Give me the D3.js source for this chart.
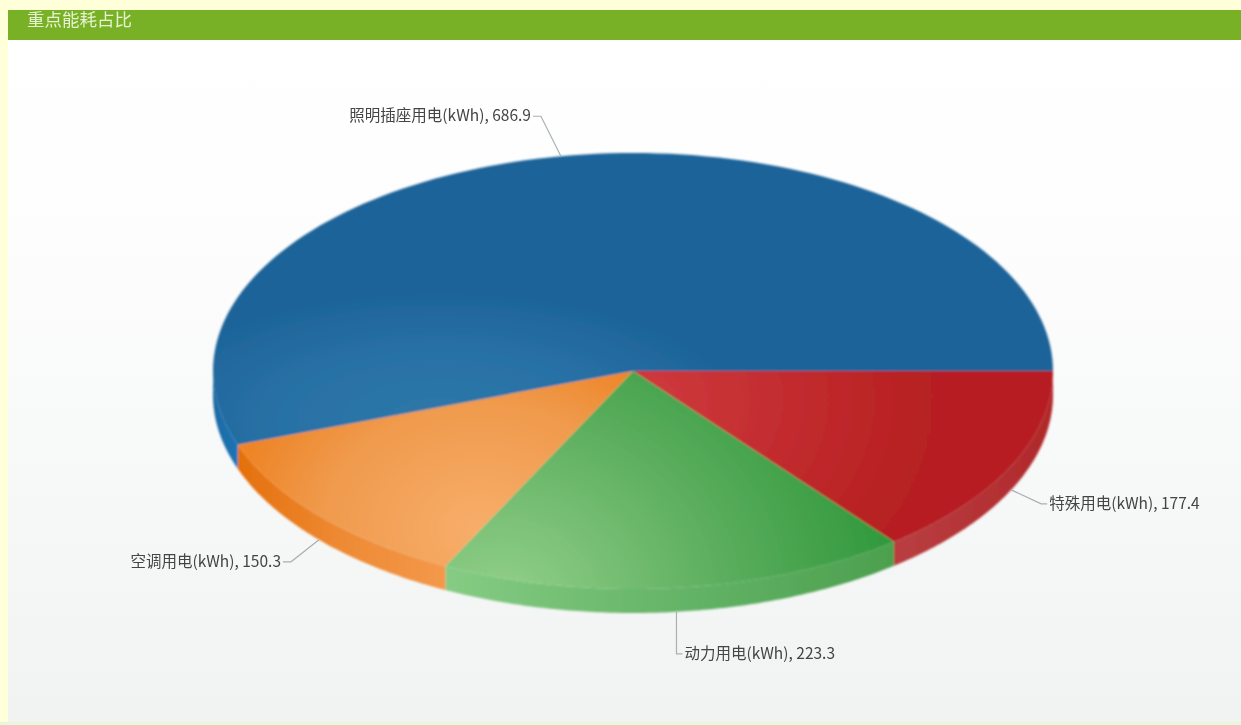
<!DOCTYPE html>
<html>
<head>
<meta charset="utf-8">
<script src="https://cdn.jsdelivr.net/npm/d3@7"></script>
<style>
  html, body { margin: 0; padding: 0; background: #ffffd9; overflow: hidden; }
  text { font-family: "Noto Sans CJK SC", "Noto Sans", sans-serif; }
</style>
</head>
<body>
<svg class="chart" width="1241" height="725"></svg>
<script>
const title = '重点能耗占比'
const categories = ['特殊用电(kWh)', '动力用电(kWh)', '空调用电(kWh)', '照明插座用电(kWh)']
const values = [177.4, 223.3, 150.3, 686.9]

const width = 1241
const height = 725
const depth = 24
const fillIds = ['red', 'green', 'orange', 'blue']
const wallIds = ['redWall', 'greenWall', 'orangeWall', 'blueWall']
// how far each connector runs out from the rim, in category order
const connectors = [[30, 14], [0, 42], [-28, 22], [-20, -40]]

const xScale = d3.scaleLinear().domain([-1, 1]).range([213, 1053])
const yScale = d3.scaleLinear().domain([-1, 1]).range([153, 589])

const slices = d3.pie().sort(null)
  .startAngle(Math.PI / 2)
  .endAngle(Math.PI * 2.5)(values)

const rim = (a, dy = 0) => [xScale(Math.sin(a)), yScale(-Math.cos(a)) + dy]
const line = d3.line()
const steps = (a0, a1) => d3.range(0, 121).map(i => a0 + ((a1 - a0) * i) / 120)

const chart = d3.select('.chart')
const defs = chart.append('defs')

const blur = defs.append('filter').attr('id', 'soft')
blur.append('feGaussianBlur').attr('stdDeviation', 0.6)
const edge = defs.append('filter').attr('id', 'edge')
edge.append('feGaussianBlur').attr('stdDeviation', 1)

const addLinear = (id, x1, y1, x2, y2, stops) => {
  const g = defs.append('linearGradient').attr('id', id)
    .attr('gradientUnits', 'userSpaceOnUse')
    .attr('x1', x1).attr('y1', y1).attr('x2', x2).attr('y2', y2)
  stops.forEach(s => g.append('stop').attr('offset', s[0]).attr('stop-color', s[1]))
}
const addRadial = (id, cx, cy, r, squash, stops) => {
  const g = defs.append('radialGradient').attr('id', id)
    .attr('gradientUnits', 'userSpaceOnUse')
    .attr('cx', 0).attr('cy', 0).attr('r', r)
    .attr('gradientTransform', `translate(${cx},${cy}) scale(1,${squash})`)
  stops.forEach(s => g.append('stop').attr('offset', s[0]).attr('stop-color', s[1]))
}

addLinear('page', 0, 40, 0, 722, [[0, '#ffffff'], [0.3, '#fdfdfd'], [1, '#f1f3f3']])
addRadial('blue', 440, 420, 320, 0.42, [[0, '#2f78a8'], [0.5, '#2871a6'], [1, '#1c6399']])
addRadial('red', 640, 400, 300, 0.8, [[0, '#cf3a3e'], [0.5, '#c22c2f'], [1, '#b61f20']])
addRadial('green', 500, 600, 420, 0.85, [[0, '#93d08a'], [0.55, '#5aad5c'], [1, '#2b9638']])
addRadial('orange', 480, 530, 290, 0.8, [[0, '#f7ae6a'], [0.55, '#f09a4c'], [0.85, '#ee8528'], [1, '#ee8020']])
addLinear('blueWall', 213, 0, 240, 0, [[0, '#1c6aa3'], [1, '#1a75b5']])
addLinear('redWall', 893, 0, 1053, 0, [[0, '#b93f42'], [1, '#b0282a']])
addLinear('greenWall', 445, 0, 893, 0, [[0, '#86cc84'], [0.5, '#66b569'], [1, '#4ca04e']])
addLinear('orangeWall', 238, 0, 445, 0, [[0, '#e4700c'], [0.5, '#ee8a34'], [1, '#f4984a']])

// page panel and header bar
chart.append('rect').attr('x', 8).attr('y', 40).attr('width', width - 8).attr('height', 682)
  .attr('fill', 'url(#page)')
chart.append('rect').attr('x', 0).attr('y', 722).attr('width', width).attr('height', 3)
  .attr('fill', '#e8f7d8')
chart.append('rect').attr('x', 8).attr('y', 10).attr('width', width - 8).attr('height', 30)
  .attr('fill', '#79b128')
  .attr('filter', 'url(#soft)')
chart.append('text').attr('x', 27).attr('y', 26)
  .attr('font-size', 17.5).attr('fill', '#e6f2d2').attr('filter', 'url(#soft)')
  .text(title)

const pie = chart.append('g').attr('class', 'pie').attr('filter', 'url(#edge)')

pie.selectAll('path.wall')
  .data(slices)
  .enter()
  .append('path')
  .attr('class', 'wall')
  .attr('fill', (d, i) => `url(#${wallIds[i]})`)
  .attr('d', (d) => {
    const angles = steps(d.startAngle, Math.min(d.endAngle, Math.PI * 1.5))
    const top = angles.map(a => rim(a))
    const bottom = angles.slice().reverse().map(a => rim(a, depth))
    return `${line(top.concat(bottom))}Z`
  })

pie.selectAll('path.top')
  .data(slices)
  .enter()
  .append('path')
  .attr('class', 'top')
  .attr('fill', (d, i) => `url(#${fillIds[i]})`)
  .attr('d', (d) => {
    const outer = steps(d.startAngle, d.endAngle).map(a => rim(a))
    return `${line([[xScale(0), yScale(0)]].concat(outer))}Z`
  })

// connectors and labels
const labels = chart.append('g').attr('class', 'labels')

slices.forEach((d, i) => {
  const mid = (d.startAngle + d.endAngle) / 2
  const front = mid < Math.PI * 1.5
  const from = rim(mid, front ? depth : 0)
  const to = [from[0] + connectors[i][0], from[1] + connectors[i][1]]
  const leftSide = to[0] < xScale(0) - 10 || i === 3
  const end = [to[0] + (leftSide ? -8 : 6), to[1]]
  labels.append('path')
    .attr('d', line([from, to, end]))
    .attr('fill', 'none')
    .attr('stroke', '#a9b0b0')
    .attr('stroke-width', 1.2)
    .attr('filter', 'url(#soft)')
  labels.append('text')
    .attr('x', end[0] + (leftSide ? -2 : 2))
    .attr('y', end[1] + 5)
    .attr('text-anchor', leftSide ? 'end' : 'start')
    .attr('font-size', 15.5)
    .attr('fill', '#444')
    .attr('filter', 'url(#soft)')
    .text(`${categories[i]}, ${values[i].toFixed(1)}`)
})
</script>
</body>
</html>
